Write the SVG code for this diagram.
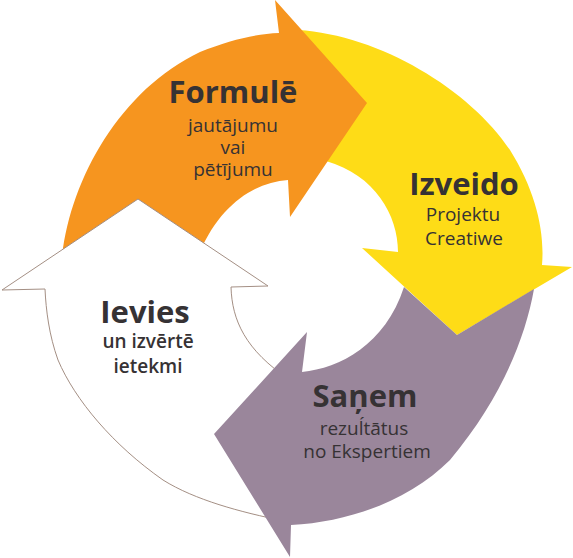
<svg xmlns="http://www.w3.org/2000/svg" width="573" height="558" viewBox="0 0 573 558">
<style>
.t{font-family:"Open Sans","Noto Sans","Liberation Sans",sans-serif;fill:#363234;text-anchor:middle}
.h{font-size:31px;font-weight:700}
.s{font-size:19px;font-weight:400}
.sb{font-size:19px;font-weight:600}
</style>
<rect width="573" height="558" fill="#ffffff"/>
<g id="connectors"></g>
<g id="izveido">
<path d="M298,30 C380,35 470,90 510,150 C535,190 545,230 542,265 L572,267 L457,335 L362,248 L398,252 C398,215 375,175 326,161 L300,100 Z" fill="#FEDC17"/>
<text class="t h" x="464" y="195">Izveido</text>
<text class="t s" x="463" y="221">Projektu</text>
<text class="t s" x="464" y="245">Creatiwe</text>
</g>
<g id="formule">
<path d="M62,258 C70,180 120,90 200,52 C230,40 255,34 279,33 L275,0 L367,103 L290,217 L288,180 C255,182 220,205 200,252 Z" fill="#F6951F"/>
<text class="t h" x="233" y="103">Formulē</text>
<text class="t s" x="233" y="132">jautājumu</text>
<text class="t s" x="233" y="154">vai</text>
<text class="t s" x="233" y="176">pētījumu</text>
</g>
<g id="ievies">
<path d="M138,199 L268,286 L231,287 C232,320 245,350 290,380 L300,450 L284,521 C240,512 195,500 163,480 C113,445 75,400 58,360 C49,335 46,310 45,289 L2,290 Z" fill="#ffffff" stroke="#A48F84" stroke-width="1"/>
<text class="t h" x="145" y="323">Ievies</text>
<text class="t sb" x="148" y="348">un izvērtē</text>
<text class="t sb" x="148" y="373">ietekmi</text>
</g>
<g id="sanem">
<path d="M404,287 L457,335 L534,289 C525,340 500,400 450,460 C410,500 350,522 291,525 L290,557 L214,434 L307,332 L302,372 C340,368 385,345 404,287 Z" fill="#9A869B"/>
<text class="t h" x="365" y="407">Saņem</text>
<text class="t s" x="364" y="435">rezuĺtātus</text>
<text class="t s" x="367" y="458">no Ekspertiem</text>
</g>
</svg>
